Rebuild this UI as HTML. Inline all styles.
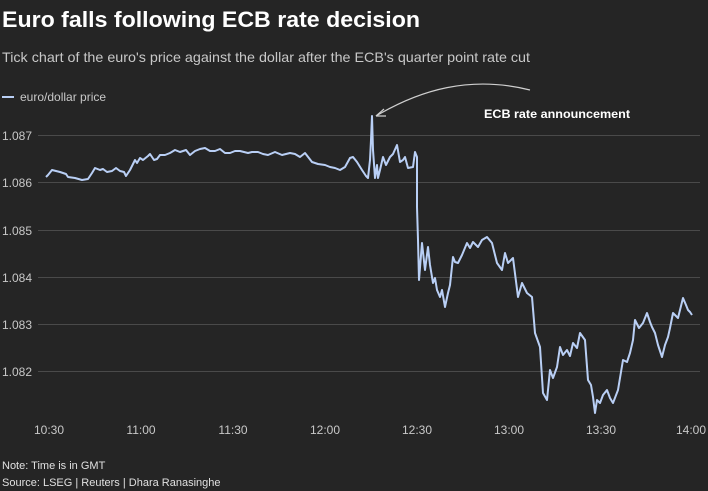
<!DOCTYPE html>
<html><head><style>
body{margin:0;background:#252525;width:708px;height:491px;overflow:hidden;font-family:"Liberation Sans",sans-serif;}
</style></head><body>
<svg width="708" height="491" xmlns="http://www.w3.org/2000/svg" style="display:block">
<rect width="708" height="491" fill="#252525"/>
<text x="2" y="27" fill="#fff" font-size="22" font-weight="bold" textLength="418" lengthAdjust="spacingAndGlyphs">Euro falls following ECB rate decision</text>
<text x="2" y="62" fill="#c8c8c8" font-size="14" textLength="528" lengthAdjust="spacingAndGlyphs">Tick chart of the euro's price against the dollar after the ECB's quarter point rate cut</text>
<line x1="2" y1="97" x2="14" y2="97" stroke="#b9cff5" stroke-width="2"/>
<text x="20" y="101" fill="#c8c8c8" font-size="12">euro/dollar price</text>
<g stroke="#4a4a4a" stroke-width="1">
<line x1="38" y1="135.5" x2="700" y2="135.5"/>
<line x1="38" y1="182.5" x2="700" y2="182.5"/>
<line x1="38" y1="230.5" x2="700" y2="230.5"/>
<line x1="38" y1="277.5" x2="700" y2="277.5"/>
<line x1="38" y1="324.5" x2="700" y2="324.5"/>
<line x1="38" y1="371.5" x2="700" y2="371.5"/>
</g>
<g fill="#c8c8c8" font-size="12">
<text x="2" y="140">1.087</text><text x="2" y="187">1.086</text><text x="2" y="235">1.085</text>
<text x="2" y="282">1.084</text><text x="2" y="329">1.083</text><text x="2" y="376">1.082</text>
</g>
<g fill="#c8c8c8" font-size="12" text-anchor="middle">
<text x="49" y="434">10:30</text><text x="141" y="434">11:00</text><text x="233" y="434">11:30</text>
<text x="325" y="434">12:00</text><text x="417" y="434">12:30</text><text x="509" y="434">13:00</text>
<text x="601" y="434">13:30</text><text x="691" y="434">14:00</text>
</g>
<polyline fill="none" stroke="#b9cff5" stroke-width="2" stroke-linejoin="round" points="46,177 48,175 52,170 60,172 66,174 68,177 75,178 82,180 88,179 92,173 95,168 100,170 103,169 107,172 112,171 116,168 120,171 124,172 126,176 130,170 133,164 135,160 137,163 140,158 143,160 148,156 150,154 154,160 157,159 160,155 165,155 170,153 175,150 180,152 186,150 190,155 195,151 200,149 205,148 210,151 215,151 220,149 225,153 230,153 235,151 240,151 248,153 252,152 258,152 263,154 268,155 275,152 282,155 290,153 295,154 300,157 305,153 312,162 318,164 325,165 330,167 335,168 340,170 345,167 350,158 353,157 357,162 362,170 366,176 368,178 370,160 371,140 372,116 373,150 375,178 377,165 378,178 380,170 383,157 386,165 390,157 393,154 397,145 400,162 403,160 405,157 408,168 413,167 415,152 417,157 417,207 418,240 419,280 422,243 425,270 428,247 430,265 433,283 435,278 437,290 440,297 442,290 445,307 448,293 450,285 453,257 455,262 458,263 462,255 467,243 470,248 473,242 478,247 482,240 487,237 492,243 497,263 502,270 505,253 508,263 513,258 518,297 522,283 527,293 532,297 535,333 540,347 543,393 547,400 550,370 553,378 557,367 560,347 563,355 567,350 570,356 573,343 577,348 580,333 585,340 588,380 591,385 593,397 595,413 597,400 600,403 603,395 607,390 610,398 613,403 618,390 623,360 627,362 630,353 633,340 635,320 639,328 643,323 645,318 647,313 650,322 652,327 655,333 658,345 662,357 665,345 668,337 670,328 673,313 678,318 683,298 686,305 688,310 690,312 692,315"/>
<path d="M530,90 C470,75 420,90 376,116" fill="none" stroke="#cfcfcf" stroke-width="1.2"/>
<path d="M376,116 L384,109 M376,116 L386,116" stroke="#cfcfcf" stroke-width="1.2"/>
<text x="484" y="118" fill="#fff" font-size="12" font-weight="bold" textLength="146" lengthAdjust="spacingAndGlyphs">ECB rate announcement</text>
<text x="2" y="469" fill="#e0e0e0" font-size="11">Note: Time is in GMT</text>
<text x="2" y="486" fill="#e0e0e0" font-size="11">Source: LSEG | Reuters | Dhara Ranasinghe</text>
</svg>
</body></html>
